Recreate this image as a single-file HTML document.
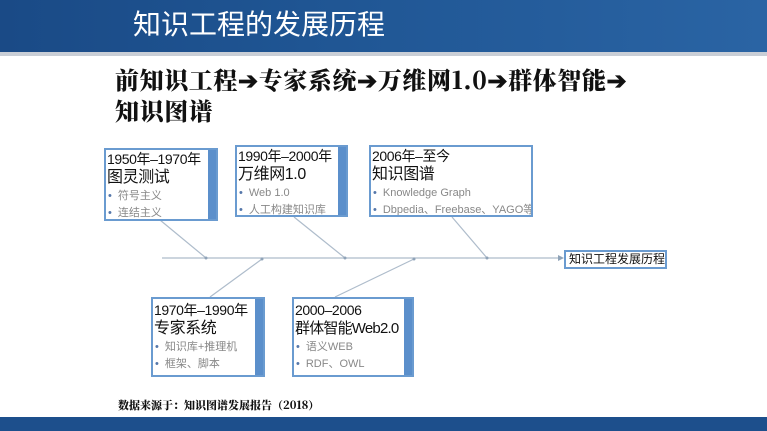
<!DOCTYPE html>
<html><head><meta charset="utf-8"><style>
body{margin:0;width:767px;height:431px;background:#fff;position:relative;overflow:hidden;font-family:"Liberation Sans","Noto Sans CJK SC",sans-serif}
.hdr{position:absolute;left:0;top:0;width:767px;height:52px;background:linear-gradient(90deg,#1a4a86 0%,#1f5593 40%,#2a64a4 100%)}
.hdr2{position:absolute;left:0;top:52px;width:767px;height:4px;background:#c9ced6}
.title{position:absolute;left:133px;top:7px;color:#fff;font-size:28px;line-height:36px}
.sub{position:absolute;left:115px;top:63px;font-family:"Noto Serif CJK SC",serif;font-weight:900;font-size:24px;line-height:31px;color:#111;letter-spacing:0.6px}
.box{position:absolute;border:2px solid #6a9bd0;background:#fff;box-sizing:border-box;overflow:hidden}
.box .st{position:absolute;right:0;top:0;bottom:0;width:8px;background:#5b8fcb}
.box .t{font-size:14px;line-height:18px;color:#111;padding-left:1px;white-space:nowrap;letter-spacing:-0.4px}
.box .b{font-size:11px;line-height:17px;color:#888;white-space:nowrap;padding-left:2px}
.box .b:before{content:"•";color:#5577aa;margin-right:6px}
.lbl{position:absolute;left:564px;top:250px;width:103px;height:19px;border:2px solid #6a9bd0;box-sizing:border-box;font-size:12px;line-height:15px;padding-left:3px;color:#111;white-space:nowrap}
.src{position:absolute;left:118px;top:397px;font-family:"Noto Serif CJK SC",serif;font-weight:900;font-size:11px;color:#111}
.foot{position:absolute;left:0;top:417px;width:767px;height:14px;background:#1d4f8c}
</style></head><body>
<div class="hdr"></div><div class="hdr2"></div>
<div class="title">知识工程的发展历程</div>
<div class="sub">前知识工程➔专家系统➔万维网1.0➔群体智能➔<br>知识图谱</div>
<svg style="position:absolute;left:0;top:0" width="767" height="431">
<g stroke="#aebccb" stroke-width="1.2" fill="none">
<line x1="162" y1="258" x2="560" y2="258"/>
<line x1="160" y1="220" x2="206" y2="258"/>
<line x1="294" y1="217" x2="345" y2="258"/>
<line x1="452" y1="217" x2="487" y2="258"/>
<line x1="210" y1="297" x2="262" y2="259"/>
<line x1="335" y1="297" x2="414" y2="259"/>
</g>
<g fill="#8fa3b8"><circle cx="206" cy="258" r="1.5"/><circle cx="345" cy="258" r="1.5"/><circle cx="487" cy="258" r="1.5"/><circle cx="262" cy="259" r="1.5"/><circle cx="414" cy="259" r="1.5"/><polygon points="564,258 558,255 558,261"/></g>
</svg>
<div class="box" style="left:104px;top:148px;width:114px;height:73px"><div class="st"></div><div class="t">1950年–1970年</div><div class="t" style="font-size:16px;line-height:20px">图灵测试</div><div class="b">符号主义</div><div class="b">连结主义</div></div>
<div class="box" style="left:235px;top:145px;width:113px;height:72px"><div class="st"></div><div class="t">1990年–2000年</div><div class="t" style="font-size:16px;line-height:20px">万维网1.0</div><div class="b">Web 1.0</div><div class="b">人工构建知识库</div></div>
<div class="box" style="left:369px;top:145px;width:164px;height:72px"><div class="t">2006年–至今</div><div class="t" style="font-size:16px;line-height:20px">知识图谱</div><div class="b">Knowledge Graph</div><div class="b">Dbpedia、Freebase、YAGO等</div></div>
<div class="box" style="left:151px;top:297px;width:114px;height:80px"><div class="st"></div><div class="t" style="margin-top:2px">1970年–1990年</div><div class="t" style="font-size:16px;line-height:20px">专家系统</div><div class="b">知识库+推理机</div><div class="b">框架、脚本</div></div>
<div class="box" style="left:292px;top:297px;width:122px;height:80px"><div class="st"></div><div class="t" style="margin-top:2px">2000–2006</div><div class="t" style="font-size:15px;line-height:20px;letter-spacing:-0.8px">群体智能Web2.0</div><div class="b">语义WEB</div><div class="b">RDF、OWL</div></div>
<div class="lbl">知识工程发展历程</div>
<div class="src">数据来源于：知识图谱发展报告（2018）</div>
<div class="foot"></div>
</body></html>
